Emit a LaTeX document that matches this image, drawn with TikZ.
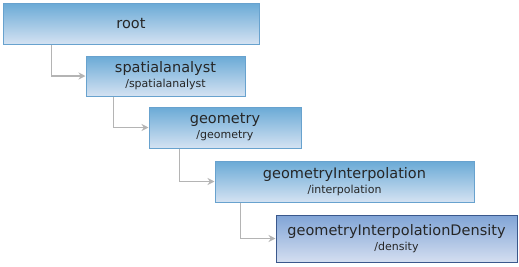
\documentclass[tikz,border=0pt]{standalone}
\usepackage{fontspec}
\setmainfont{DejaVu Sans}
\usetikzlibrary{arrows.meta}
\definecolor{boxtop}{RGB}{106,170,214}
\definecolor{boxbot}{RGB}{212,226,242}
\definecolor{boxline}{RGB}{104,162,206}
\definecolor{lasttop}{RGB}{128,164,214}
\definecolor{lastbot}{RGB}{212,222,240}
\definecolor{lastline}{RGB}{58,88,140}
\definecolor{connline}{RGB}{180,180,180}
\newcommand{\sub}[1]{\\[-1pt]{\fontsize{11}{12}\selectfont #1}}

\begin{document}
\begin{tikzpicture}[x=1pt, y=-1pt,
  box/.style={draw=boxline, line width=1pt, top color=boxtop, bottom color=boxbot, minimum height=41pt, align=center, inner sep=0pt, font=\fontsize{14.5}{16}\selectfont, text=black!85},
  lastbox/.style={box, draw=lastline, top color=lasttop, bottom color=lastbot, minimum height=47pt},
  conn/.style={draw=connline, line width=1.5pt, -{Stealth[length=7pt,width=7pt]}}
]
\useasboundingbox (0,0) rectangle (519,266);
\node[box, minimum width=256pt] (root) at (131,23.5) {root};
\node[box, minimum width=159pt, minimum height=40pt] (spatial) at (165.5,76) {spatialanalyst\sub{/spatialanalyst}};
\node[box, minimum width=152pt] (geometry) at (225,127.5) {geometry\sub{/geometry}};
\node[box, minimum width=259pt] (interp) at (344.5,181.5) {geometryInterpolation\sub{/interpolation}};
\node[lastbox, minimum width=241pt] (density) at (396.5,238.5) {geometryInterpolationDensity\sub{/density}};

\draw[conn] ([xshift=49pt]root.south west) |- (spatial.west);
\draw[conn] ([xshift=28pt]spatial.south west) |- (geometry.west);
\draw[conn] ([xshift=31pt]geometry.south west) |- (interp.west);
\draw[conn] ([xshift=26pt]interp.south west) |- (density.west);
\end{tikzpicture}
\end{document}
